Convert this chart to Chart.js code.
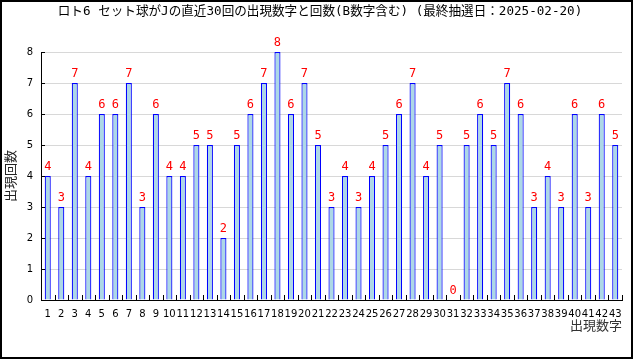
<!DOCTYPE html>
<html>
<head>
<meta charset="utf-8">
<script src="https://cdn.jsdelivr.net/npm/chart.js@4"></script>
<style>
  body { margin: 0; background: #fff; }
</style>
</head>
<body>
<canvas id="chart" width="640" height="360"></canvas>
<script>
const numbers = [];
for (let n = 1; n <= 43; n++) numbers.push(String(n));
const counts = [4, 3, 7, 4, 6, 6, 7, 3, 6, 4, 4, 5, 5, 2, 5, 6, 7, 8, 6, 7, 5, 3, 4, 3, 4, 5, 6, 7, 4, 5,
  0, 5, 6, 5, 7, 6, 3, 4, 3, 6, 3, 6, 5];
const yTicks = [0, 1, 2, 3, 4, 5, 6, 7, 8];
const titleText = "ロト6 セット球がJの直近30回の出現数字と回数(B数字含む) (最終抽選日：2025-02-20)";

const extras = {
  id: "extras",
  afterDatasetsDraw(chart) {
    const ctx = chart.ctx;
    const x = chart.scales.x;
    const y = chart.scales.y;
    const area = chart.chartArea;
    ctx.save();
    // value labels
    ctx.fillStyle = "#ff0000";
    ctx.font = "12px 'DejaVu Sans Mono'";
    ctx.textAlign = "center";
    ctx.textBaseline = "alphabetic";
    chart.getDatasetMeta(0).data.forEach((bar, i) => {
      ctx.fillText(String(counts[i]), bar.x, bar.y - 6);
    });
    // inward ticks
    ctx.strokeStyle = "#000";
    ctx.lineWidth = 1;
    ctx.beginPath();
    yTicks.forEach(v => {
      const py = Math.round(y.getPixelForValue(v)) + 0.5;
      ctx.moveTo(area.left, py);
      ctx.lineTo(area.left + 4, py);
    });
    for (let i = 0; i <= numbers.length; i++) {
      const px = Math.round(x.getPixelForValue(i - 0.5)) + 0.5;
      ctx.moveTo(px, area.bottom);
      ctx.lineTo(px, area.bottom - 5);
    }
    ctx.stroke();
    ctx.restore();
  },
  afterDraw(chart) {
    const ctx = chart.ctx;
    ctx.save();
    ctx.strokeStyle = "#000";
    ctx.lineWidth = 2;
    ctx.strokeRect(1, 1, 631, 357);
    ctx.restore();
  }
};

new Chart(document.getElementById("chart"), {
  type: "bar",
  data: {
    labels: numbers,
    datasets: [{
      data: counts,
      backgroundColor: "#add8e6",
      borderColor: "#0000ff",
      borderWidth: 1.2,
      barPercentage: 0.45,
      categoryPercentage: 1.0
    }]
  },
  options: {
    responsive: false,
    animation: false,
    layout: { padding: 0 },
    plugins: {
      legend: { display: false },
      tooltip: { enabled: false },
      title: {
        display: true,
        text: titleText,
        color: "#000",
        font: { family: "'DejaVu Sans Mono', 'Noto Sans CJK JP'", size: 12.6, weight: "normal" },
        padding: { top: 4, bottom: 33 }
      }
    },
    scales: {
      x: {
        offset: true,
        grid: { display: false, drawTicks: false },
        border: { color: "#000", width: 1 },
        ticks: {
          color: "#000",
          font: { family: "'DejaVu Sans'", size: 10 },
          padding: 8,
          autoSkip: false,
          maxRotation: 0,
          minRotation: 0
        },
        title: {
          display: true,
          text: "出現数字",
          align: "end",
          color: "#333",
          font: { family: "'Noto Sans CJK JP'", size: 13 },
          padding: { top: 0, bottom: 27 }
        },
        afterFit(scale) { scale.height = 60; }
      },
      y: {
        min: 0,
        max: 8,
        grid: { color: "#d8d8d8", drawTicks: false },
        border: { color: "#000", width: 1 },
        ticks: {
          stepSize: 1,
          color: "#000",
          font: { family: "'DejaVu Sans'", size: 10 },
          padding: 8,
          callback: (v) => yTicks.includes(v) ? String(v) : ""
        },
        title: {
          display: true,
          text: "出現回数",
          color: "#222",
          font: { family: "'Noto Sans CJK JP'", size: 13 },
          padding: { top: 2, bottom: 0 }
        },
        afterFit(scale) { scale.width = 41; }
      },
      spacer: {
        position: "right",
        display: true,
        grid: { display: false, drawTicks: false },
        border: { display: false },
        ticks: { display: false },
        afterFit(scale) { scale.width = 18; }
      }
    }
  },
  plugins: [extras]
});
</script>
</body>
</html>
